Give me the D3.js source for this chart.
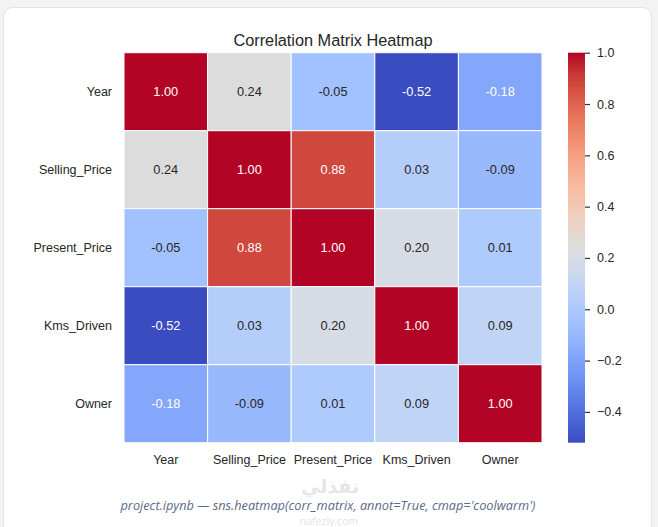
<!DOCTYPE html>
<html lang="en">
<head>
  <meta charset="UTF-8">
  <title>Correlation Matrix Heatmap</title>
  <script src="https://cdn.jsdelivr.net/npm/d3@7"></script>
  <style>
    html, body { margin: 0; padding: 0; background: #f3f3f4; }
    svg { display: block; font-family: "Liberation Sans", Arial, sans-serif; }
  </style>
</head>
<body>
  <script>
    const labels = ['Year', 'Selling_Price', 'Present_Price', 'Kms_Driven', 'Owner']
    const yearRow = [1.00, 0.24, -0.05, -0.52, -0.18]
    const sellingRow = [0.24, 1.00, 0.88, 0.03, -0.09]
    const presentRow = [-0.05, 0.88, 1.00, 0.20, 0.01]
    const kmsRow = [-0.52, 0.03, 0.20, 1.00, 0.09]
    const ownerRow = [-0.18, -0.09, 0.01, 0.09, 1.00]
    const colorbarTicks = [1.0, 0.8, 0.6, 0.4, 0.2, 0.0, -0.2, -0.4]

    const matrix = [yearRow, sellingRow, presentRow, kmsRow, ownerRow]
    const cells = []
    matrix.forEach((row, i) => row.forEach((v, j) => cells.push({ r: labels[i], c: labels[j], v })))

    // matplotlib coolwarm (Moreland) colour stops
    const coolwarm = [
      [59,76,192],[68,90,204],[77,104,215],[87,117,225],[98,130,234],[108,142,241],
      [119,154,247],[130,165,251],[141,176,254],[152,185,255],[163,194,255],[174,201,253],
      [184,208,249],[194,213,244],[204,217,238],[213,219,230],[221,221,221],[229,216,209],
      [236,211,197],[241,204,184],[245,196,172],[247,187,160],[247,177,148],[247,166,135],
      [244,154,123],[241,141,111],[236,127,99],[229,112,88],[222,96,77],[213,80,66],
      [203,62,56],[192,40,47],[180,4,38]
    ].map(d => d3.rgb(d[0], d[1], d[2]).toString())
    const cmap = d3.interpolateRgbBasis(coolwarm)

    const vmin = d3.min(cells, d => d.v)
    const vmax = 1
    const norm = d3.scaleLinear().domain([vmin, vmax]).range([0, 1]).clamp(true)
    const color = v => cmap(norm(v))

    // annotation colour like seaborn: dark text on light cells
    function lum(c) {
      const rgb = d3.rgb(c)
      const f = x => { x /= 255; return x <= 0.03928 ? x / 12.92 : Math.pow((x + 0.055) / 1.055, 2.4) }
      return 0.2126 * f(rgb.r) + 0.7152 * f(rgb.g) + 0.0722 * f(rgb.b)
    }

    const W = 658, H = 527
    const svg = d3.select('body').append('svg').attr('width', W).attr('height', H)

    // card
    svg.append('rect')
      .attr('x', 3.5).attr('y', 7.5).attr('width', 648).attr('height', 530)
      .attr('rx', 9).attr('fill', '#fff').attr('stroke', '#e3e3e5')

    const hmLeft = 124, hmTop = 52.7, hmRight = 542, hmBottom = 442.7

    const x = d3.scaleBand().domain(labels).range([hmLeft, hmRight])
    const y = d3.scaleBand().domain(labels).range([hmTop, hmBottom])

    svg.append('text')
      .attr('x', (hmLeft + hmRight) / 2).attr('y', 46)
      .attr('text-anchor', 'middle')
      .attr('font-size', 16.3).attr('fill', '#262626')
      .text('Correlation Matrix Heatmap')

    const g = svg.append('g')
    g.selectAll('rect.cell')
      .data(cells)
      .join('rect')
      .attr('class', 'cell')
      .attr('x', d => x(d.c)).attr('y', d => y(d.r))
      .attr('width', x.bandwidth()).attr('height', y.bandwidth())
      .attr('fill', d => color(d.v))
      .attr('stroke', '#fff').attr('stroke-width', 1)

    g.selectAll('text.annot')
      .data(cells)
      .join('text')
      .attr('class', 'annot')
      .attr('x', d => x(d.c) + x.bandwidth() / 2)
      .attr('y', d => y(d.r) + y.bandwidth() / 2)
      .attr('dy', '0.36em')
      .attr('text-anchor', 'middle')
      .attr('font-size', 12.8)
      .attr('fill', d => lum(color(d.v)) > 0.408 ? '#262626' : '#fff')
      .text(d => d.v.toFixed(2))

    // axes
    const xAxis = d3.axisBottom(x).tickSize(0).tickPadding(12)
    svg.append('g')
      .attr('transform', `translate(0,${hmBottom})`)
      .call(xAxis)
      .call(s => s.select('.domain').remove())
      .call(s => s.selectAll('text').attr('font-size', 12.5).attr('fill', '#262626').attr('font-family', null))

    const yAxis = d3.axisLeft(y).tickSize(0).tickPadding(12)
    svg.append('g')
      .attr('transform', `translate(${hmLeft},0)`)
      .call(yAxis)
      .call(s => s.select('.domain').remove())
      .call(s => s.selectAll('text').attr('font-size', 12.5).attr('fill', '#262626').attr('font-family', null))

    // colorbar
    const cbX = 568, cbW = 17
    const cbScale = d3.scaleLinear().domain([vmin, vmax]).range([hmBottom, hmTop])
    const grad = svg.append('defs').append('linearGradient')
      .attr('id', 'cbgrad').attr('x1', 0).attr('y1', 1).attr('x2', 0).attr('y2', 0)
    d3.range(0, 1.0001, 0.05).forEach(t => {
      grad.append('stop').attr('offset', t).attr('stop-color', cmap(t))
    })
    svg.append('rect')
      .attr('x', cbX).attr('y', hmTop)
      .attr('width', cbW).attr('height', hmBottom - hmTop)
      .attr('fill', 'url(#cbgrad)')

    const cbAxis = d3.axisRight(cbScale)
      .tickValues(colorbarTicks)
      .tickSize(5).tickPadding(7)
      .tickFormat(d3.format('.1f'))
    svg.append('g')
      .attr('transform', `translate(${cbX + cbW},0)`)
      .call(cbAxis)
      .call(s => s.select('.domain').remove())
      .call(s => s.selectAll('line').attr('stroke', '#333').attr('stroke-width', 1.2))
      .call(s => s.selectAll('text').attr('font-size', 12.5).attr('fill', '#262626').attr('font-family', null))

    // watermark
    svg.append('text')
      .attr('x', 330).attr('y', 493)
      .attr('text-anchor', 'middle')
      .attr('font-family', '"DejaVu Sans", sans-serif')
      .attr('font-weight', 'bold').attr('font-size', 19)
      .attr('fill', '#e6e6e8')
      .text('نفذلي')
    svg.append('text')
      .attr('x', 329).attr('y', 525)
      .attr('text-anchor', 'middle')
      .attr('font-family', '"Open Sans", sans-serif')
      .attr('font-size', 10.5).attr('fill', '#e4e4e6')
      .text('nafezly.com')

    // caption
    svg.append('text')
      .attr('x', 328).attr('y', 510)
      .attr('text-anchor', 'middle')
      .attr('font-family', '"Open Sans", sans-serif')
      .attr('font-style', 'italic').attr('font-size', 12.5)
      .attr('fill', '#5b6987')
      .attr('textLength', 415).attr('lengthAdjust', 'spacingAndGlyphs')
      .text("project.ipynb \u2014 sns.heatmap(corr_matrix, annot=True, cmap='coolwarm')")
  </script>
</body>
</html>
